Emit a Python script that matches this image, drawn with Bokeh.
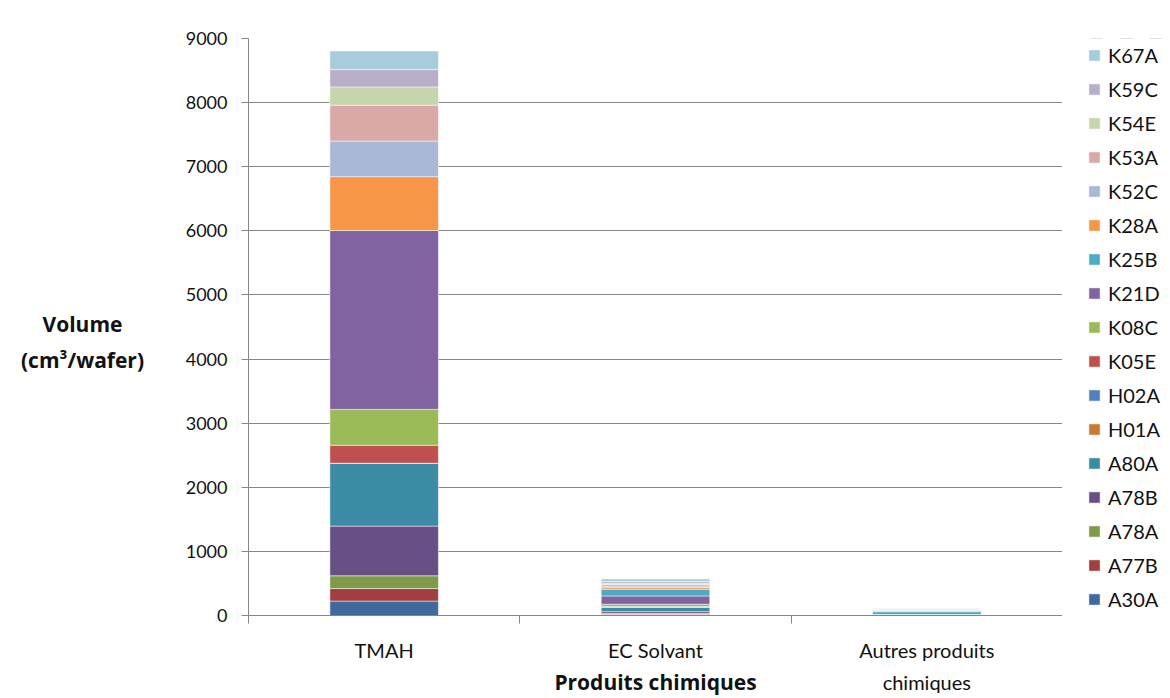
from bokeh.plotting import figure
from bokeh.models import (ColumnDataSource, Range1d, FixedTicker, Legend, LegendItem, Label)
from bokeh.layouts import row
from bokeh.embed import file_html
from bokeh.resources import INLINE

# ---------------- data ----------------
categories = ["TMAH", "EC Solvant", "Autres produits\nchimiques"]
series = ["A30A", "A77B", "A78A", "A78B", "A80A", "H01A", "H02A", "K05E", "K08C",
          "K21D", "K25B", "K28A", "K52C", "K53A", "K54E", "K59C", "K67A"]
A30A = [225, 10, 0]
A77B = [195, 10, 0]
A78A = [200, 10, 0]
A78B = [775, 30, 0]
A80A = [980, 70, 15]
H01A = [0, 0, 0]
H02A = [0, 0, 0]
K05E = [280, 10, 0]
K08C = [560, 35, 0]
K21D = [2790, 130, 0]
K25B = [0, 105, 45]
K28A = [840, 30, 10]
K52C = [555, 20, 10]
K53A = [560, 25, 10]
K54E = [285, 20, 5]
K59C = [270, 25, 5]
K67A = [290, 40, 5]
y_ticks = [0, 1000, 2000, 3000, 4000, 5000, 6000, 7000, 8000, 9000]
x_title = "Produits chimiques"
y_title = "Volume\n(cm³/wafer)"
y_title_at = 4265

colors = ["#3F6A9E", "#A03F3D", "#7F9A48", "#684F86", "#3A8BA3", "#CB7A35",
          "#4F81BD", "#C0504D", "#9BBB59", "#8064A2", "#4BACC6", "#F79646",
          "#A9B8D7", "#D9A8A7", "#C6D5AB", "#B9AEC8", "#A7CCDB"]

values = dict(A30A=A30A, A77B=A77B, A78A=A78A, A78B=A78B, A80A=A80A, H01A=H01A,
              H02A=H02A, K05E=K05E, K08C=K08C, K21D=K21D, K25B=K25B, K28A=K28A,
              K52C=K52C, K53A=K53A, K54E=K54E, K59C=K59C, K67A=K67A)

xpos = [i + 0.5 for i in range(len(categories))]
data = {"x": xpos}
data.update(values)
source = ColumnDataSource(data)

FONT = "Lato"
BFONT = "Open Sans"
TXT = "#111111"
GRID = "#868686"
H = 698
TOP, BOTTOM = 38, 83

x_range = Range1d(0, len(categories))
y_range = Range1d(0, 9000)


def bare(width, top=TOP, left=0, bottom=BOTTOM, **kw):
    f = figure(width=width, height=H, output_backend="svg", toolbar_location=None,
               x_axis_location=None, y_axis_location=None,
               min_border_left=left, min_border_right=0, min_border_top=top,
               min_border_bottom=bottom, **kw)
    f.outline_line_color = None
    f.xgrid.grid_line_color = None
    f.ygrid.grid_line_color = None
    return f


# ---------------- y title panel ----------------
pt = bare(170, x_range=Range1d(0, 1), y_range=y_range)
pt.add_layout(Label(x=82, x_units="screen", y=y_title_at, y_units="data", text=y_title,
                    text_font=BFONT, text_font_style="bold", text_font_size="21px",
                    text_align="center", text_baseline="middle", text_color=TXT,
                    text_line_height=1.3))

# ---------------- main chart ----------------
p = figure(width=892, height=H, output_backend="svg", toolbar_location=None,
           x_range=x_range, y_range=y_range,
           min_border_left=78, min_border_right=0, min_border_top=TOP,
           min_border_bottom=BOTTOM)
p.outline_line_color = None

p.vbar_stack(series, x="x", width=0.4, color=colors, source=source,
             line_color="white", line_width=0.5)

p.yaxis.ticker = FixedTicker(ticks=y_ticks)
p.yaxis.axis_line_color = GRID
p.yaxis.major_tick_line_color = GRID
p.yaxis.major_tick_out = 7
p.yaxis.major_tick_in = 0
p.yaxis.minor_tick_line_color = None
p.yaxis.major_label_standoff = 14
p.yaxis.major_label_text_font = FONT
p.yaxis.major_label_text_font_size = "18px"
p.yaxis.major_label_text_color = TXT

p.xaxis.ticker = FixedTicker(ticks=xpos, minor_ticks=list(range(len(categories) + 1)))
p.xaxis.major_label_overrides = {x: c for x, c in zip(xpos, categories)}
p.xaxis.axis_line_color = GRID
p.xaxis.major_tick_line_color = None
p.xaxis.major_tick_out = 0
p.xaxis.major_tick_in = 0
p.xaxis.minor_tick_line_color = GRID
p.xaxis.minor_tick_out = 8
p.xaxis.minor_tick_in = 0
p.xaxis.major_label_standoff = 14
p.xaxis.major_label_text_font = FONT
p.xaxis.major_label_text_font_size = "20px"
p.xaxis.major_label_text_color = TXT
p.xaxis.major_label_text_line_height = 1.35
p.xaxis.axis_label = x_title
p.xaxis.axis_label_standoff = -29
p.xaxis.axis_label_text_font = BFONT
p.xaxis.axis_label_text_font_style = "bold"
p.xaxis.axis_label_text_font_size = "21px"
p.xaxis.axis_label_text_color = TXT

p.xgrid.grid_line_color = None
p.ygrid.grid_line_color = GRID
p.ygrid.grid_line_width = 1

# ---------------- legend panel ----------------
pl = bare(108, top=12, left=20, bottom=0, x_range=x_range, y_range=Range1d(-20, -10))
leg_renderers = pl.vbar_stack(series, x="x", width=0.4, color=colors, source=source,
                              line_color="white", line_width=0.5)
items = [LegendItem(label=s, renderers=[r]) for s, r in zip(series, leg_renderers)][::-1]
legend = Legend(items=items, location="top_left", orientation="vertical",
                glyph_width=14, glyph_height=14, label_height=20, spacing=10,
                label_standoff=7, padding=0, margin=5,
                label_text_font=FONT, label_text_font_size="20px",
                label_text_color=TXT, border_line_color=None,
                background_fill_alpha=0)
pl.add_layout(legend)

layout = row(pt, p, pl)
open("out.html", "w").write(file_html(layout, INLINE))
